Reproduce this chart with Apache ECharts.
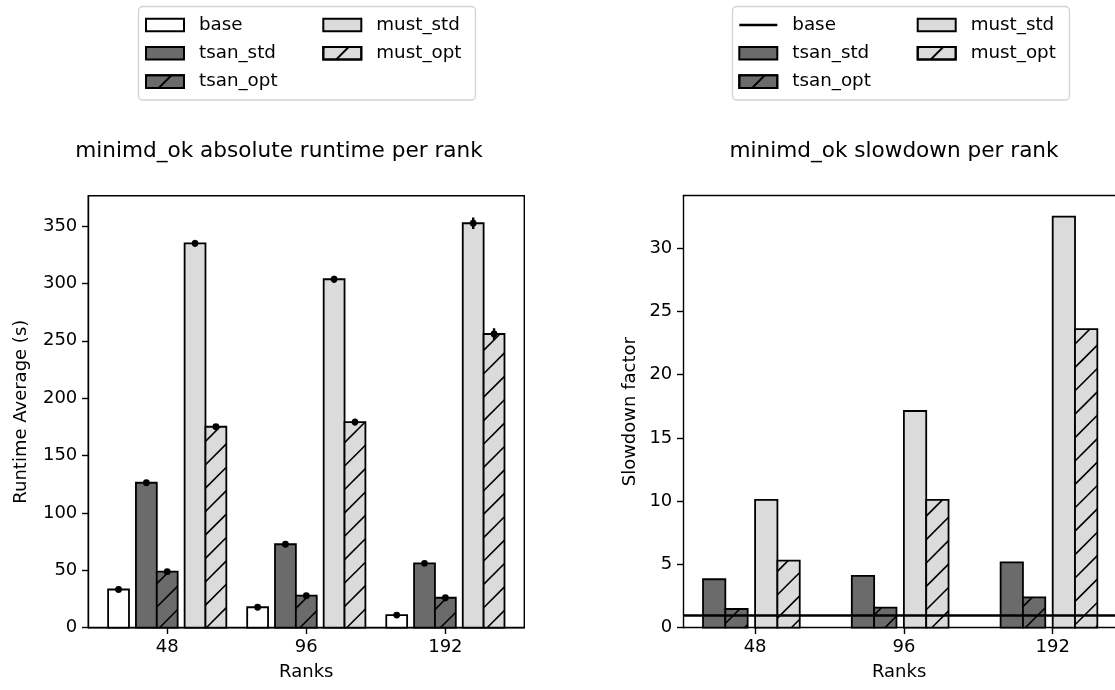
<!DOCTYPE html>
<html><head><meta charset="utf-8">
<script src="https://cdn.jsdelivr.net/npm/echarts@6/dist/echarts.min.js"></script>
<style>html,body{margin:0;padding:0;background:#fff}#c{width:1115px;height:690px}</style>
</head><body><div id="c"></div>
<script>
// ---------------- data ----------------
const ranks = ['48', '96', '192'];
const runtimeBase    = [33.3, 17.8, 11.0];
const runtimeTsanStd = [126.3, 72.7, 56.1];
const runtimeTsanOpt = [48.8, 27.9, 26.1];
const runtimeMustStd = [334.9, 303.6, 352.4];
const runtimeMustOpt = [175.1, 179.2, 255.9];
const errBase    = [0.6, 0.5, 0.4];
const errTsanStd = [0.8, 0.6, 0.6];
const errTsanOpt = [0.6, 0.5, 0.5];
const errMustStd = [3.0, 3.0, 5.0];
const errMustOpt = [1.2, 3.0, 5.0];
const slowdownBase    = 1;
const slowdownTsanStd = [3.83, 4.09, 5.17];
const slowdownTsanOpt = [1.48, 1.58, 2.40];
const slowdownMustStd = [10.1, 17.13, 32.5];
const slowdownMustOpt = [5.3, 10.1, 23.6];
const runtimeTicks  = [0, 50, 100, 150, 200, 250, 300, 350];
const slowdownTicks = [0, 5, 10, 15, 20, 25, 30];
const rankTicks = [0, 1, 2];

// ---------------- style / layout ----------------
const FONT = 'DejaVu Sans';
const C_BASE = '#ffffff', C_TSAN = '#6b6b6b', C_MUST = '#dbdbdb';
const BAR_W = 0.15;
const HATCH_STEP = 23.4, HATCH_PHASE = 15;
const EDGE_W = 1.8;
const DECAL = { symbol: 'rect', symbolSize: 1, color: '#000', dashArrayX: [1, 0], dashArrayY: [1.6, 15], rotation: -Math.PI / 4 };

function hatchLines(x0, y0, x1, y1) {
  const out = [];
  const cMin = x0 + y0, cMax = x1 + y1;
  const k = Math.ceil((cMin - HATCH_PHASE) / HATCH_STEP);
  for (let c = HATCH_PHASE + k * HATCH_STEP; c <= cMax; c += HATCH_STEP) {
    const xs = Math.max(x0, c - y1), xe = Math.min(x1, c - y0);
    if (xe - xs > 0.5) out.push({ type: 'line', shape: { x1: xs, y1: c - xs, x2: xe, y2: c - xe }, style: { stroke: '#000', lineWidth: 1.6 } });
  }
  return out;
}

function barRenderer(offset, color, hatched, withErr) {
  return function (params, api) {
    const i = api.value(0), v = api.value(1);
    const tl = api.coord([i + offset - BAR_W / 2, v]);
    const br = api.coord([i + offset + BAR_W / 2, 0]);
    const x0 = tl[0], y0 = tl[1], x1 = br[0], y1 = br[1];
    const shape = { x: x0, y: y0, width: x1 - x0, height: y1 - y0 };
    const children = [{ type: 'rect', shape: shape, style: { fill: color, stroke: null } }];
    if (hatched) children.push(...hatchLines(x0, y0, x1, y1));
    children.push({ type: 'rect', shape: shape, style: { fill: null, stroke: '#000', lineWidth: EDGE_W } });
    if (withErr) {
      const e = api.value(2);
      const cx = (x0 + x1) / 2;
      const pTop = api.coord([i + offset, v + e]), pBot = api.coord([i + offset, v - e]);
      children.push({ type: 'line', shape: { x1: cx, y1: pTop[1], x2: cx, y2: pBot[1] }, style: { stroke: '#000', lineWidth: 2.4 } });
      children.push({ type: 'circle', shape: { cx: cx, cy: y0, r: 3.4 }, style: { fill: '#000' } });
    }
    return { type: 'group', children: children };
  };
}

function barSeries(name, grid, vals, errs, offset, color, hatched) {
  const data = vals.map((v, i) => errs ? [i, v, errs[i]] : [i, v]);
  const s = {
    type: 'custom', name: name, xAxisIndex: grid, yAxisIndex: grid,
    dimensions: errs ? ['x', 'y', 'err'] : ['x', 'y'],
    encode: { x: 0, y: 1 }, data: data, clip: false,
    itemStyle: { color: color, borderColor: '#000', borderWidth: EDGE_W },
    renderItem: barRenderer(offset, color, hatched, !!errs)
  };
  if (hatched) s.itemStyle.decal = DECAL;
  return s;
}

const axisText = { fontFamily: FONT, fontSize: 18, color: '#000' };
function xAxisCfg(grid, min, max) {
  return {
    type: 'value', gridIndex: grid, min: min, max: max,
    name: 'Ranks', nameLocation: 'middle', nameGap: 36, nameTextStyle: axisText,
    axisLine: { show: true, onZero: false, lineStyle: { color: '#000', width: 1.4 } },
    axisTick: { show: true, length: 6.3, customValues: rankTicks, lineStyle: { color: '#000', width: 1.4 } },
    axisLabel: Object.assign({ customValues: rankTicks, formatter: v => ranks[Math.round(v)], margin: 11 }, axisText),
    splitLine: { show: false }
  };
}
function yAxisCfg(grid, max, ticks, name, gap) {
  return {
    type: 'value', gridIndex: grid, min: 0, max: max,
    name: name, nameLocation: 'middle', nameGap: gap, nameTextStyle: axisText,
    axisLine: { show: true, onZero: false, lineStyle: { color: '#000', width: 1.4 } },
    axisTick: { show: true, length: 6.3, customValues: ticks, lineStyle: { color: '#000', width: 1.4 } },
    axisLabel: Object.assign({ customValues: ticks, margin: 11 }, axisText),
    splitLine: { show: false }
  };
}

const legText = { fontFamily: FONT, fontSize: 18.3, color: '#000', lineHeight: 18, padding: [0, 0, 0, 10] };
function legendCfg(left, items) {
  return {
    orient: 'vertical', left: left, top: 16, itemWidth: 38, itemHeight: 12.6, itemGap: 10.3,
    padding: 0, selectedMode: false, textStyle: legText, data: items
  };
}
const rectItem = n => ({ name: n, icon: 'rect' });
const baseLineIcon = 'path://M0,0 M0,4.95 L38,4.95 L38,7.65 L0,7.65 Z M38,12.6';

// right panel: its right spine lies just outside the canvas, so the panel is cut at the canvas edge
const R_XMIN = -0.4825, R_XMAX = 2.4187;

const option = {
  animation: false,
  backgroundColor: '#fff',
  title: [
    { text: 'minimd_ok absolute runtime per rank', left: 279, top: 140, textAlign: 'center', padding: 0,
      textStyle: { fontFamily: FONT, fontSize: 21.6, fontWeight: 'normal', color: '#000' } },
    { text: 'minimd_ok slowdown per rank', left: 894, top: 140, textAlign: 'center', padding: 0,
      textStyle: { fontFamily: FONT, fontSize: 21.6, fontWeight: 'normal', color: '#000' } }
  ],
  graphic: [
    { type: 'rect', z: -1, shape: { x: 138.5, y: 6.5, width: 337, height: 93.5, r: 4 }, style: { fill: 'rgba(255,255,255,0.8)', stroke: '#d4d4d4', lineWidth: 1.4 } },
    { type: 'rect', z: -1, shape: { x: 732.5, y: 6.5, width: 337, height: 93.5, r: 4 }, style: { fill: 'rgba(255,255,255,0.8)', stroke: '#d4d4d4', lineWidth: 1.4 } }
  ],
  legend: [
    legendCfg(145, [rectItem('base'), rectItem('tsan_std'), rectItem('tsan_opt')]),
    legendCfg(322.3, [rectItem('must_std'), rectItem('must_opt')]),
    legendCfg(738.3, [{ name: 'base', icon: baseLineIcon, itemStyle: { color: '#000', borderWidth: 0 } }, rectItem('tsan_std'), rectItem('tsan_opt')]),
    legendCfg(916.7, [rectItem('must_std'), rectItem('must_opt')])
  ],
  grid: [
    { left: 88.3, width: 436, top: 195.7, height: 432, show: true, borderColor: '#000', borderWidth: 1.4, backgroundColor: 'transparent' },
    { left: 683.3, right: 0, top: 195.7, height: 432, show: false }
  ],
  xAxis: [
    xAxisCfg(0, -0.5675, 2.5675),
    xAxisCfg(1, R_XMIN, R_XMAX),
    { type: 'value', gridIndex: 1, position: 'top', min: R_XMIN, max: R_XMAX,
      axisLine: { show: true, onZero: false, lineStyle: { color: '#000', width: 1.4 } },
      axisTick: { show: false }, axisLabel: { show: false }, splitLine: { show: false } }
  ],
  yAxis: [yAxisCfg(0, 376.4, runtimeTicks, 'Runtime Average (s)', 58), yAxisCfg(1, 34.15, slowdownTicks, 'Slowdown factor', 44)],
  series: [
    barSeries('base',     0, runtimeBase,    errBase,    -0.35, C_BASE, false),
    barSeries('tsan_std', 0, runtimeTsanStd, errTsanStd, -0.15, C_TSAN, false),
    barSeries('tsan_opt', 0, runtimeTsanOpt, errTsanOpt,  0.00, C_TSAN, true),
    barSeries('must_std', 0, runtimeMustStd, errMustStd,  0.20, C_MUST, false),
    barSeries('must_opt', 0, runtimeMustOpt, errMustOpt,  0.35, C_MUST, true),
    barSeries('tsan_std', 1, slowdownTsanStd, null, -0.275, C_TSAN, false),
    barSeries('tsan_opt', 1, slowdownTsanOpt, null, -0.125, C_TSAN, true),
    barSeries('must_std', 1, slowdownMustStd, null,  0.075, C_MUST, false),
    barSeries('must_opt', 1, slowdownMustOpt, null,  0.225, C_MUST, true),
    { type: 'line', name: 'base', xAxisIndex: 1, yAxisIndex: 1, data: [], symbol: 'none', z: 5,
      lineStyle: { color: '#000', width: 2.7 }, itemStyle: { color: '#000' },
      markLine: { silent: true, symbol: ['none', 'none'], label: { show: false }, z: 5,
        lineStyle: { color: '#000', width: 2.7, type: 'solid' }, emphasis: { disabled: true },
        data: [{ yAxis: slowdownBase }] } }
  ]
};

const chart = echarts.init(document.getElementById('c'), null, { renderer: 'canvas' });
chart.setOption(option);
</script>
</body></html>
